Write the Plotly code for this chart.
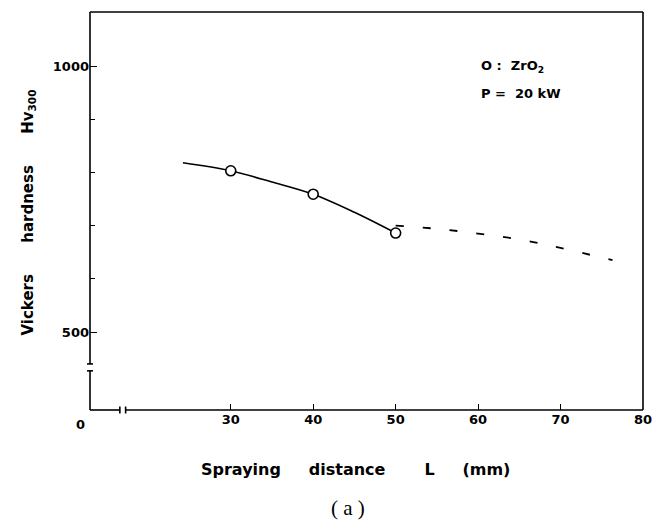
import plotly.graph_objects as go

# measured data (ZrO2, P = 20 kW)
meas_x = [30, 40, 50]
meas_y = [803, 759, 686]

# solid fitted curve
fit_x = [24.2, 30, 35, 40, 45, 50]
fit_y = [818, 803, 782, 759, 725, 686]

# dashed extrapolation
ext_x = [50, 55, 60, 65, 70, 76.3]
ext_y = [700, 694, 685, 674, 658, 635]

x_ticks = [30, 40, 50, 60, 70, 80]
y_ticks = [500, 1000]
y_minor = [600, 700, 800, 900]

X_MIN, X_MAX = 12.93, 80
Y_MIN, Y_MAX = 353.4, 1101.5
Y_BRK = (427.0, 440.0)   # broken y-axis gap
X_BRK = (16.55, 17.25)   # broken x-axis gap

FONT = "DejaVu Sans"
BLK = "black"

fig = go.Figure()
fig.add_trace(go.Scatter(x=fit_x, y=fit_y, mode="lines",
                         line=dict(color=BLK, width=1.6, shape="spline"),
                         showlegend=False, hoverinfo="skip"))
fig.add_trace(go.Scatter(x=ext_x, y=ext_y, mode="lines",
                         line=dict(color=BLK, width=1.8, shape="spline", dash="8px,19px"),
                         showlegend=False, hoverinfo="skip"))
fig.add_trace(go.Scatter(x=meas_x, y=meas_y, mode="markers",
                         marker=dict(symbol="circle", size=10, color="white",
                                     line=dict(color=BLK, width=1.6)),
                         showlegend=False))

tickfont = dict(family=FONT, size=13, color=BLK, weight="bold")
fig.update_xaxes(range=[X_MIN, X_MAX], tickvals=x_ticks, ticktext=[str(v) for v in x_ticks],
                 ticks="inside", ticklen=6, tickwidth=1.3, tickcolor=BLK,
                 showline=False, showgrid=False, zeroline=False, tickfont=tickfont)
fig.update_yaxes(range=[Y_MIN, Y_MAX], tickvals=y_ticks, ticktext=[str(v) for v in y_ticks],
                 ticks="inside", ticklen=7, tickwidth=1.3, tickcolor=BLK,
                 minor=dict(tickvals=y_minor, ticks="inside", ticklen=5, tickwidth=1.3, tickcolor=BLK),
                 showline=False, showgrid=False, zeroline=False, tickfont=tickfont,
                 ticklabelstandoff=0)

# convert data values to paper fractions so frame shapes are not clipped
def px_(v):
    return (v - X_MIN) / (X_MAX - X_MIN)

def py_(v):
    return (v - Y_MIN) / (Y_MAX - Y_MIN)

lw = 1.6
def seg(x0, y0, x1, y1):
    return dict(type="line", xref="paper", yref="paper", x0=x0, y0=y0, x1=x1, y1=y1,
                line=dict(color=BLK, width=lw), layer="above")

sx = 3.0 / 558   # serif half width (paper)
sy = 3.5 / 398   # serif half height (paper)
yb0, yb1 = py_(Y_BRK[0]), py_(Y_BRK[1])
xb0, xb1 = px_(X_BRK[0]), px_(X_BRK[1])
shapes = [
    seg(0, 1, 1, 1),            # top
    seg(1, 0, 1, 1),            # right
    seg(0, yb1, 0, 1),          # left upper
    seg(0, 0, 0, yb0),          # left lower
    seg(-sx, yb1, sx, yb1),
    seg(-sx, yb0, sx, yb0),
    seg(0, 0, xb0, 0),          # bottom left
    seg(xb1, 0, 1, 0),          # bottom right
    seg(xb0, -sy, xb0, sy),
    seg(xb1, -sy, xb1, sy),
]

def sp(n):
    return "&nbsp;" * n

annotations = [
    dict(text="0", xref="paper", yref="paper", x=0, y=0, xanchor="right", yanchor="top",
         xshift=-3, yshift=-5, showarrow=False, font=tickfont),
    dict(text="O" + sp(1) + ":" + sp(2) + "ZrO<sub>2</sub>", xref="paper", yref="paper",
         x=0.703, y=0.863, xanchor="left", yanchor="middle", showarrow=False,
         font=dict(family=FONT, size=13, color=BLK, weight="bold")),
    dict(text="P" + sp(1) + "=" + sp(2) + "20" + sp(1) + "kW", xref="paper", yref="paper",
         x=0.703, y=0.795, xanchor="left", yanchor="middle", showarrow=False,
         font=dict(family=FONT, size=13, color=BLK, weight="bold")),
    dict(text="Spraying" + sp(5) + "distance" + sp(7) + "L" + sp(5) + "(mm)",
         xref="paper", yref="paper", x=(200 - 90) / 558, y=(410 - 469) / 398,
         xanchor="left", yanchor="middle", showarrow=False,
         font=dict(family=FONT, size=16, color=BLK, weight="bold")),
    dict(text="Vickers" + sp(6) + "hardness" + sp(6) + "Hv<sub>300</sub>",
         xref="paper", yref="paper", x=(27 - 90) / 558, y=(410 - 213) / 398,
         xanchor="center", yanchor="middle", textangle=-90, showarrow=False,
         font=dict(family=FONT, size=15, color=BLK, weight="bold")),
    dict(text="( a )", xref="paper", yref="paper", x=(350 - 90) / 558, y=(410 - 508) / 398,
         xanchor="center", yanchor="middle", showarrow=False,
         font=dict(family="Liberation Serif", size=21, color=BLK)),
]

fig.update_layout(width=664, height=529, margin=dict(l=90, r=16, t=12, b=119),
                  paper_bgcolor="white", plot_bgcolor="white",
                  shapes=shapes, annotations=annotations)

fig.write_html("out.html")
